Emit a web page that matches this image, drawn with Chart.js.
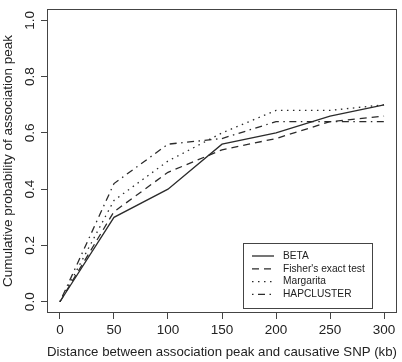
<!DOCTYPE html>
<html>
<head>
<meta charset="utf-8">
<script src="https://cdn.jsdelivr.net/npm/chart.js@4/dist/chart.umd.min.js"></script>
<style>
  html, body { margin: 0; padding: 0; background: #fff; }
  #wrap { width: 402px; height: 362px; }
</style>
</head>
<body>
<div id="wrap"><canvas id="grafik"></canvas></div>
<script>
// values
var mesafeler = [0, 50, 100, 150, 200, 250, 300];
var betaDegerleri = [0, 0.30, 0.40, 0.56, 0.60, 0.66, 0.70];
var fisherDegerleri = [0, 0.32, 0.46, 0.54, 0.58, 0.64, 0.66];
var margaritaDegerleri = [0, 0.36, 0.50, 0.60, 0.68, 0.68, 0.70];
var hapclusterDegerleri = [0, 0.42, 0.56, 0.58, 0.64, 0.64, 0.64];
var seriAdlari = ["BETA", "Fisher's exact test", "Margarita", "HAPCLUSTER"];
var xTikleri = [0, 50, 100, 150, 200, 250, 300];
var yTikleri = [0, 0.2, 0.4, 0.6, 0.8, 1.0];

var yaziTipi = "'Liberation Sans', Arial, sans-serif";
var cizgiRengi = "#2b2b2b";
var kesikler = [[], [7, 5], [1.5, 4.5], [1.5, 4.5, 7, 4.5]];

function noktalar(degerler) {
  var sonuc = [];
  for (var i = 0; i < mesafeler.length; i++) {
    sonuc.push({x: mesafeler[i], y: degerler[i]});
  }
  return sonuc;
}

var tumSeriler = [betaDegerleri, fisherDegerleri, margaritaDegerleri, hapclusterDegerleri];
var veriSetleri = [];
for (var i = 0; i < tumSeriler.length; i++) {
  veriSetleri.push({
    label: seriAdlari[i],
    data: noktalar(tumSeriler[i]),
    borderColor: cizgiRengi,
    borderWidth: 1.3,
    borderDash: kesikler[i],
    pointRadius: 0,
    tension: 0,
    fill: false
  });
}

/* box around the plot + legend in bottom right, R style */
var kutuEklentisi = {
  id: "kutu",
  afterDraw: function (chart) {
    var ctx = chart.ctx;
    var a = chart.chartArea;
    ctx.save();
    ctx.strokeStyle = "#444";
    ctx.lineWidth = 1;
    ctx.setLineDash([]);
    ctx.strokeRect(Math.round(a.left) + 0.5, Math.round(a.top) + 0.5,
      Math.round(a.right - a.left) - 1, Math.round(a.bottom - a.top) - 1);

    // legend
    var lx = a.right - 154, ly = a.bottom - 70, lw = 129, lh = 65;
    ctx.strokeRect(lx + 0.5, ly + 0.5, lw, lh);
    ctx.font = "10.2px " + yaziTipi;
    ctx.textBaseline = "middle";
    ctx.fillStyle = "#222";
    var ds = chart.data.datasets;
    for (var j = 0; j < ds.length; j++) {
      var sy = ly + 13 + j * 12.8;
      ctx.beginPath();
      ctx.strokeStyle = cizgiRengi;
      ctx.lineWidth = 1.3;
      ctx.setLineDash(ds[j].borderDash);
      ctx.moveTo(lx + 9, sy);
      ctx.lineTo(lx + 31, sy);
      ctx.stroke();
      ctx.setLineDash([]);
      ctx.fillText(ds[j].label, lx + 40, sy);
    }
    ctx.restore();
  }
};

var ctx = document.getElementById("grafik");
var grafik = new Chart(ctx, {
  type: "line",
  data: {datasets: veriSetleri},
  plugins: [kutuEklentisi],
  options: {
    responsive: true,
    maintainAspectRatio: false,
    animation: false,
    layout: {padding: {top: 1, right: 5, left: 0, bottom: 0}},
    plugins: {legend: {display: false}, tooltip: {enabled: false}},
    scales: {
      x: {
        type: "linear",
        min: -12,
        max: 312,
        afterBuildTicks: function (s) {
          s.ticks = xTikleri.map(function (v) { return {value: v}; });
        },
        afterFit: function (s) { s.height = 49; },
        grid: {display: true, drawOnChartArea: false, drawTicks: true, tickLength: 6, color: "#444"},
        border: {display: false},
        ticks: {
          color: "#222",
          font: {family: yaziTipi, size: 13.5},
          padding: 3,
          maxRotation: 0,
          autoSkip: false,
          callback: function (v) { return String(v); }
        },
        title: {
          display: true,
          text: "Distance between association peak and causative SNP (kb)",
          color: "#222",
          font: {family: yaziTipi, size: 13.5},
          padding: {top: 0, bottom: 2}
        }
      },
      y: {
        type: "linear",
        min: -0.04,
        max: 1.04,
        afterBuildTicks: function (s) {
          s.ticks = yTikleri.map(function (v) { return {value: v}; });
        },
        afterFit: function (s) { s.width = 47; },
        grid: {display: true, drawOnChartArea: false, drawTicks: true, tickLength: 6, color: "#444"},
        border: {display: false},
        ticks: {
          color: "#222",
          font: {family: yaziTipi, size: 13.5},
          padding: 1,
          minRotation: 90,
          maxRotation: 90,
          crossAlign: "center",
          autoSkip: false,
          callback: function (v) { return Number(v).toFixed(1); }
        },
        title: {
          display: true,
          text: "Cumulative probability of association peak",
          color: "#222",
          font: {family: yaziTipi, size: 13.5},
          padding: {top: 0, bottom: 0}
        }
      }
    }
  }
});
</script>
</body>
</html>
